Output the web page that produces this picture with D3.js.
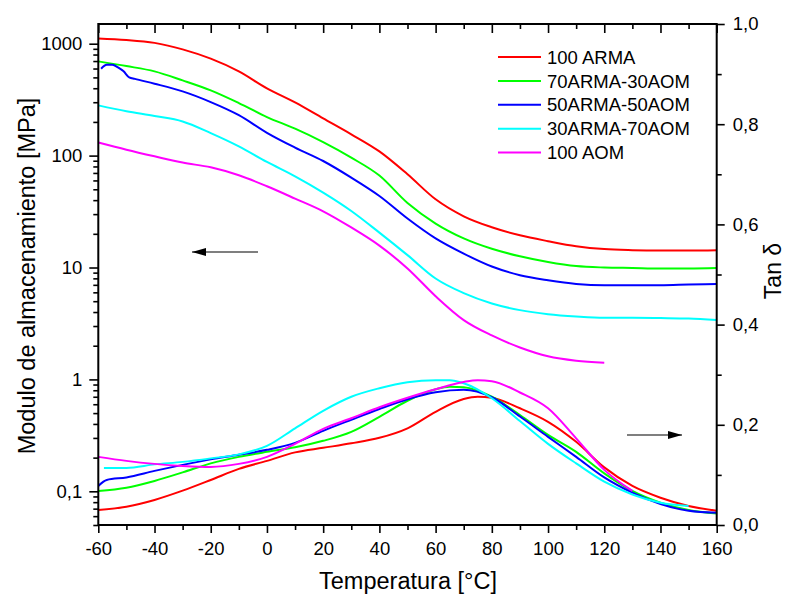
<!DOCTYPE html>
<html><head><meta charset="utf-8">
<script src="https://cdn.jsdelivr.net/npm/d3@7"></script>
<style>
html,body{margin:0;padding:0;background:#fff;}
text{font-family:Arial,"Liberation Sans",Helvetica,sans-serif;fill:#000;}
</style></head>
<body><svg id="chart" width="795" height="599"></svg>
<script>
// ---------- DATA ----------
const seriesNames = ["100 ARMA", "70ARMA-30AOM", "50ARMA-50AOM", "30ARMA-70AOM", "100 AOM"];
const seriesColors = ["#ff0000", "#00ff00", "#0000ff", "#00ffff", "#ff00ff"];

const xTicks = [-60, -40, -20, 0, 20, 40, 60, 80, 100, 120, 140, 160];
const xTickLabels = ["-60", "-40", "-20", "0", "20", "40", "60", "80", "100", "120", "140", "160"];
const leftTicks = [0.1, 1, 10, 100, 1000];
const leftTickLabels = ["0,1", "1", "10", "100", "1000"];
const rightTicks = [0, 0.2, 0.4, 0.6, 0.8, 1.0];
const rightTickLabels = ["0,0", "0,2", "0,4", "0,6", "0,8", "1,0"];

// storage modulus [MPa] (left log axis)
const tModStd = [-60,-50,-40,-30,-20,-10,0,10,20,30,40,50,60,70,80,90,100,110,120,130,140,150,160];
const modARMA100 = [1115,1081,1017,890,735,566,399,299,215,155,109,68.1,40.7,28.7,22.9,19.4,17.2,15.5,14.6,14.3,14.2,14.2,14.3];
const mod70_30   = [695,631,566,470,383,295,221,174,132,95.9,66.3,37.7,24.7,18.2,14.7,12.6,11.2,10.3,10.0,9.9,9.8,9.8,9.9];
const tModBlue = [-59,-57,-55,-53,-51,-49,-47,-40,-30,-20,-10,0,10,20,30,40,50,60,70,80,90,100,110,120,130,140,150,160];
const mod50_50   = [598,647,649,614,566,500,485,439,375,301,230,160,118,89.5,63.6,43.6,27.4,18.2,13.3,10.2,8.54,7.70,7.14,6.95,6.95,6.95,7.05,7.14];
const mod30_70   = [281,249,226,202,159,121,87.7,65.3,46.7,32.0,20.5,12.9,7.97,5.90,4.77,4.16,3.83,3.65,3.55,3.55,3.53,3.50,3.39];
const tModAOM = [-60,-50,-40,-30,-20,-10,0,10,20,30,40,50,60,70,80,90,100,110,120];
const modAOM100  = [131,113,98.6,86.6,78.6,66.7,53.2,41.3,31.8,22.8,15.7,9.8,5.54,3.39,2.47,1.93,1.61,1.47,1.41];

// tan delta (right linear axis)
const tTanRed = [-60,-50,-40,-30,-20,-10,0,10,20,30,40,50,60,70,75,80,90,100,110,120,130,140,150,160];
const tanARMA100 = [0.030,0.0365,0.050,0.0685,0.0898,0.112,0.128,0.145,0.154,0.163,0.174,0.193,0.226,0.2515,0.256,0.254,0.233,0.206,0.166,0.115,0.078,0.0545,0.038,0.0285];
const tTanGreen = [-60,-50,-40,-30,-20,-10,0,10,20,30,40,50,60,65,70,80,90,100,110,120,130,140,150,160];
const tan70_30 = [0.068,0.0745,0.088,0.105,0.123,0.136,0.146,0.155,0.168,0.186,0.216,0.248,0.271,0.276,0.275,0.256,0.2195,0.180,0.146,0.103,0.068,0.0445,0.030,0.023];
const tTanBlue = [-60,-57,-50,-40,-30,-20,-10,0,10,20,30,40,50,60,70,80,90,100,110,120,130,140,150,160];
const tan50_50 = [0.078,0.090,0.095,0.108,0.120,0.131,0.140,0.150,0.164,0.188,0.210,0.2315,0.251,0.265,0.270,0.255,0.2165,0.176,0.136,0.095,0.0645,0.042,0.0285,0.0245];
const tTanCyan = [-58,-50,-40,-30,-20,-10,0,10,20,30,40,50,60,65,70,80,90,100,110,120,130,140,150];
const tan30_70 = [0.114,0.114,0.121,0.126,0.133,0.141,0.158,0.193,0.228,0.256,0.273,0.285,0.289,0.289,0.283,0.253,0.2075,0.162,0.123,0.0865,0.061,0.0445,0.038];
const tTanMag = [-60,-50,-40,-30,-20,-10,0,10,20,30,40,50,60,70,75,80,90,100,110,120,130];
const tanAOM100 = [0.136,0.128,0.122,0.118,0.116,0.122,0.136,0.162,0.192,0.213,0.235,0.254,0.271,0.2855,0.289,0.287,0.2645,0.233,0.173,0.110,0.068];

const modSeries = [[tModStd, modARMA100],[tModStd, mod70_30],[tModBlue, mod50_50],[tModStd, mod30_70],[tModAOM, modAOM100]];
const tanSeries = [[tTanRed, tanARMA100],[tTanGreen, tan70_30],[tTanBlue, tan50_50],[tTanCyan, tan30_70],[tTanMag, tanAOM100]];

// ---------- LAYOUT ----------
const L = 98.3, R = 716.7, T = 24, B = 525;
const svg = d3.select("#chart");
const x = d3.scaleLinear().domain([-60, 160]).range([L, R]);
const yL = d3.scaleLog().domain([0.05, 1500]).range([B, T]);
const yR = d3.scaleLinear().domain([0, 1]).range([B, T]);

svg.append("defs").append("clipPath").attr("id","clip")
  .append("rect").attr("x",L).attr("y",T).attr("width",R-L).attr("height",B-T);

const g = svg.append("g").attr("clip-path","url(#clip)");
function drawSeries(list, yScale){
  list.forEach(([ts, vs], i) => {
    const pts = ts.map((t, k) => [t, vs[k]]);
    const line = d3.line().x(d => x(d[0])).y(d => yScale(d[1])).curve(d3.curveMonotoneX);
    g.append("path").datum(pts).attr("d", line)
      .attr("fill","none").attr("stroke", seriesColors[i]).attr("stroke-width",2)
      .attr("stroke-linejoin","round");
  });
}
drawSeries(tanSeries, yR);
drawSeries(modSeries, yL);

const tickFont = 18.5;
const xMinor = d3.range(-50, 160, 20);
// bottom axis
svg.append("g").attr("transform",`translate(0,${B})`)
  .call(d3.axisBottom(x).tickValues(xTicks).tickSize(8).tickSizeOuter(0).tickPadding(9)
    .tickFormat((d,i) => xTickLabels[i]));
svg.append("g").attr("transform",`translate(0,${B})`)
  .call(d3.axisBottom(x).tickValues(xMinor).tickSize(5).tickSizeOuter(0).tickFormat(""));
// top axis (ticks inward)
svg.append("g").attr("transform",`translate(0,${T})`)
  .call(d3.axisBottom(x).tickValues(xTicks).tickSize(9).tickSizeOuter(0).tickFormat(""));
svg.append("g").attr("transform",`translate(0,${T})`)
  .call(d3.axisBottom(x).tickValues(xMinor).tickSize(5).tickSizeOuter(0).tickFormat(""));
// left axis
svg.append("g").attr("transform",`translate(${L},0)`)
  .call(d3.axisLeft(yL).tickValues(leftTicks).tickSize(9).tickSizeOuter(0).tickPadding(7)
    .tickFormat((d,i) => leftTickLabels[i]));
const leftMinor = [];
[0.01,0.1,1,10,100,1000].forEach(dec => { for (let m=2; m<=9; m++){ const v=dec*m; if (v>=0.05 && v<=1500) leftMinor.push(v); } });
svg.append("g").attr("transform",`translate(${L},0)`)
  .call(d3.axisLeft(yL).tickValues(leftMinor).tickSize(5).tickSizeOuter(0).tickFormat(""));
// right axis
svg.append("g").attr("transform",`translate(${R},0)`)
  .call(d3.axisRight(yR).tickValues(rightTicks).tickSize(8).tickSizeOuter(0).tickPadding(8)
    .tickFormat((d,i) => rightTickLabels[i]));
svg.append("g").attr("transform",`translate(${R},0)`)
  .call(d3.axisRight(yR).tickValues([0.1,0.3,0.5,0.7,0.9]).tickSize(5).tickSizeOuter(0).tickFormat(""));

svg.selectAll(".tick line").attr("stroke","#000").attr("stroke-width",1.6);
svg.selectAll(".domain").attr("stroke","none");
svg.selectAll(".tick text").attr("font-size",tickFont).attr("font-family","Arial, 'Liberation Sans', sans-serif").attr("fill","#000");

// frame
svg.append("rect").attr("x",L).attr("y",T).attr("width",R-L).attr("height",B-T)
  .attr("fill","none").attr("stroke","#000").attr("stroke-width",2);

// axis titles
svg.append("text").attr("x",(L+R)/2 + 0.5).attr("y",589).attr("text-anchor","middle")
  .attr("font-size",23.5).text("Temperatura [°C]");
svg.append("text").attr("transform","translate(35,276) rotate(-90)").attr("text-anchor","middle")
  .attr("font-size",23.5).text("Modulo de almacenamiento [MPa]");
svg.append("text").attr("transform","translate(781,271) rotate(-90)").attr("text-anchor","middle")
  .attr("font-size",23).text("Tan δ");

// legend
const lg = svg.append("g");
seriesNames.forEach((n,i) => {
  const yy = 57 + i*23.9;
  lg.append("line").attr("x1",498).attr("x2",541).attr("y1",yy).attr("y2",yy)
    .attr("stroke",seriesColors[i]).attr("stroke-width",2);
  lg.append("text").attr("x",547).attr("y",yy).attr("dy","0.36em").attr("font-size",18.5).text(n);
});

// arrows
function arrow(x1, x2, yy){
  svg.append("line").attr("x1",x1).attr("x2",x2).attr("y1",yy).attr("y2",yy).attr("stroke","#000").attr("stroke-width",1.2);
  const dir = Math.sign(x2 - x1);
  svg.append("path").attr("d",`M${x2},${yy} L${x2-dir*14},${yy-4} L${x2-dir*14},${yy+4} Z`).attr("fill","#000");
}
arrow(258, 192, 252);
arrow(627, 682, 435);
</script></body></html>
